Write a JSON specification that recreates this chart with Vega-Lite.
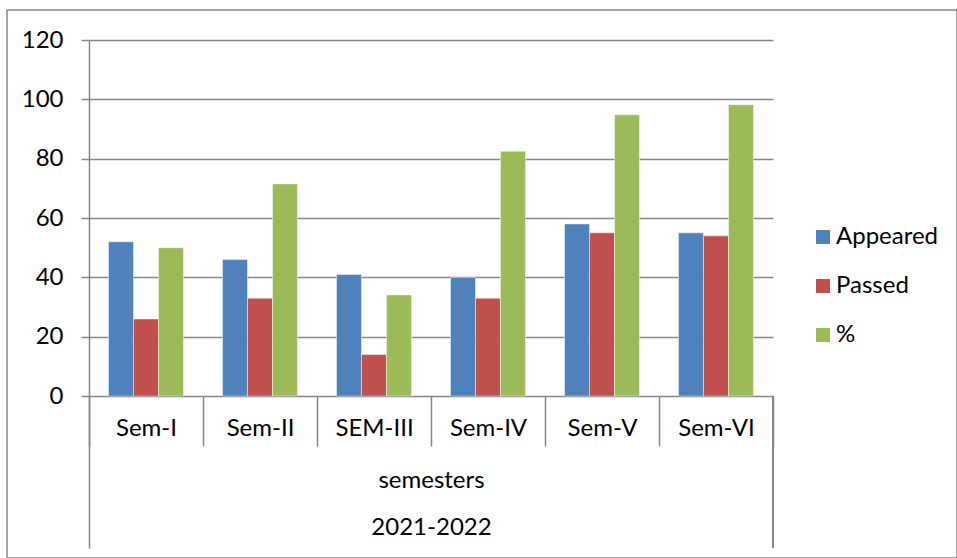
{
  "$schema": "https://vega.github.io/schema/vega-lite/v6.json",
  "width": 950,
  "height": 548,
  "autosize": {"type": "none"},
  "padding": {"left": 7, "top": 10, "right": 0, "bottom": 0},
  "config": {
    "font": "Lato",
    "view": {"stroke": "#868686", "strokeWidth": 1.5},
    "axis": {"labelFont": "Lato", "titleFont": "Lato", "labelColor": "#000", "titleColor": "#000"}
  },
  "data": {
    "values": [
      {"semester": "Sem-I", "series": "Appeared", "value": 52},
      {"semester": "Sem-I", "series": "Passed", "value": 26},
      {"semester": "Sem-I", "series": "%", "value": 50},
      {"semester": "Sem-II", "series": "Appeared", "value": 46},
      {"semester": "Sem-II", "series": "Passed", "value": 33},
      {"semester": "Sem-II", "series": "%", "value": 71.5},
      {"semester": "SEM-III", "series": "Appeared", "value": 41},
      {"semester": "SEM-III", "series": "Passed", "value": 14},
      {"semester": "SEM-III", "series": "%", "value": 34.1},
      {"semester": "Sem-IV", "series": "Appeared", "value": 40},
      {"semester": "Sem-IV", "series": "Passed", "value": 33},
      {"semester": "Sem-IV", "series": "%", "value": 82.5},
      {"semester": "Sem-V", "series": "Appeared", "value": 58},
      {"semester": "Sem-V", "series": "Passed", "value": 55},
      {"semester": "Sem-V", "series": "%", "value": 94.8},
      {"semester": "Sem-VI", "series": "Appeared", "value": 55},
      {"semester": "Sem-VI", "series": "Passed", "value": 54},
      {"semester": "Sem-VI", "series": "%", "value": 98.2}
    ]
  },
  "layer": [
    {
      "mark": {"type": "bar", "stroke": "#ffffff", "strokeOpacity": 0.45, "strokeWidth": 1},
      "encoding": {
        "x": {
          "field": "semester",
          "type": "nominal",
          "sort": ["Sem-I", "Sem-II", "SEM-III", "Sem-IV", "Sem-V", "Sem-VI"],
          "scale": {"range": [82, 766], "paddingInner": 0, "paddingOuter": 0},
          "axis": {
            "orient": "bottom",
            "offset": -162,
            "domain": false,
            "grid": false,
            "tickBand": "extent",
            "tickSize": 50,
            "tickColor": "#868686",
            "tickWidth": 1.5,
            "labelAngle": 0,
            "labelFontSize": 24,
            "labelPadding": -30,
            "labelBaseline": "top",
            "title": ["semesters", "2021-2022"],
            "titleFontSize": 24,
            "titleFontWeight": "normal",
            "titleLineHeight": 47,
            "titlePadding": 22
          }
        },
        "xOffset": {
          "field": "series",
          "type": "nominal",
          "sort": ["Appeared", "Passed", "%"],
          "scale": {"paddingInner": 0, "paddingOuter": 0.78}
        },
        "y": {
          "field": "value",
          "type": "quantitative",
          "scale": {"domain": [-51.2, 120], "range": [538, 30], "nice": false, "zero": false},
          "axis": {
            "orient": "left",
            "offset": -82,
            "values": [0, 20, 40, 60, 80, 100, 120],
            "title": null,
            "grid": true,
            "gridColor": "#868686",
            "gridWidth": 1.5,
            "domainColor": "#868686",
            "domainWidth": 1.5,
            "tickColor": "#868686",
            "tickWidth": 1.5,
            "tickSize": 8,
            "labelFontSize": 24,
            "labelPadding": 18
          }
        },
        "y2": {"datum": 0},
        "color": {
          "field": "series",
          "type": "nominal",
          "scale": {"domain": ["Appeared", "Passed", "%"], "range": ["#4F81BD", "#C0504D", "#9BBB59"]},
          "legend": {
            "orient": "none",
            "legendX": 804,
            "legendY": 215,
            "title": null,
            "padding": 0,
            "symbolType": "square",
            "symbolSize": 196,
            "symbolStrokeWidth": 0,
            "labelFontSize": 24,
            "labelColor": "#000",
            "labelOffset": 1,
            "rowPadding": 25
          }
        }
      }
    },
    {
      "mark": {"type": "rule", "color": "#868686", "strokeWidth": 1.5},
      "encoding": {
        "x": {"datum": "Sem-VI", "bandPosition": 1},
        "y": {"datum": 0},
        "y2": {"datum": -51.2}
      }
    }
  ]
}
